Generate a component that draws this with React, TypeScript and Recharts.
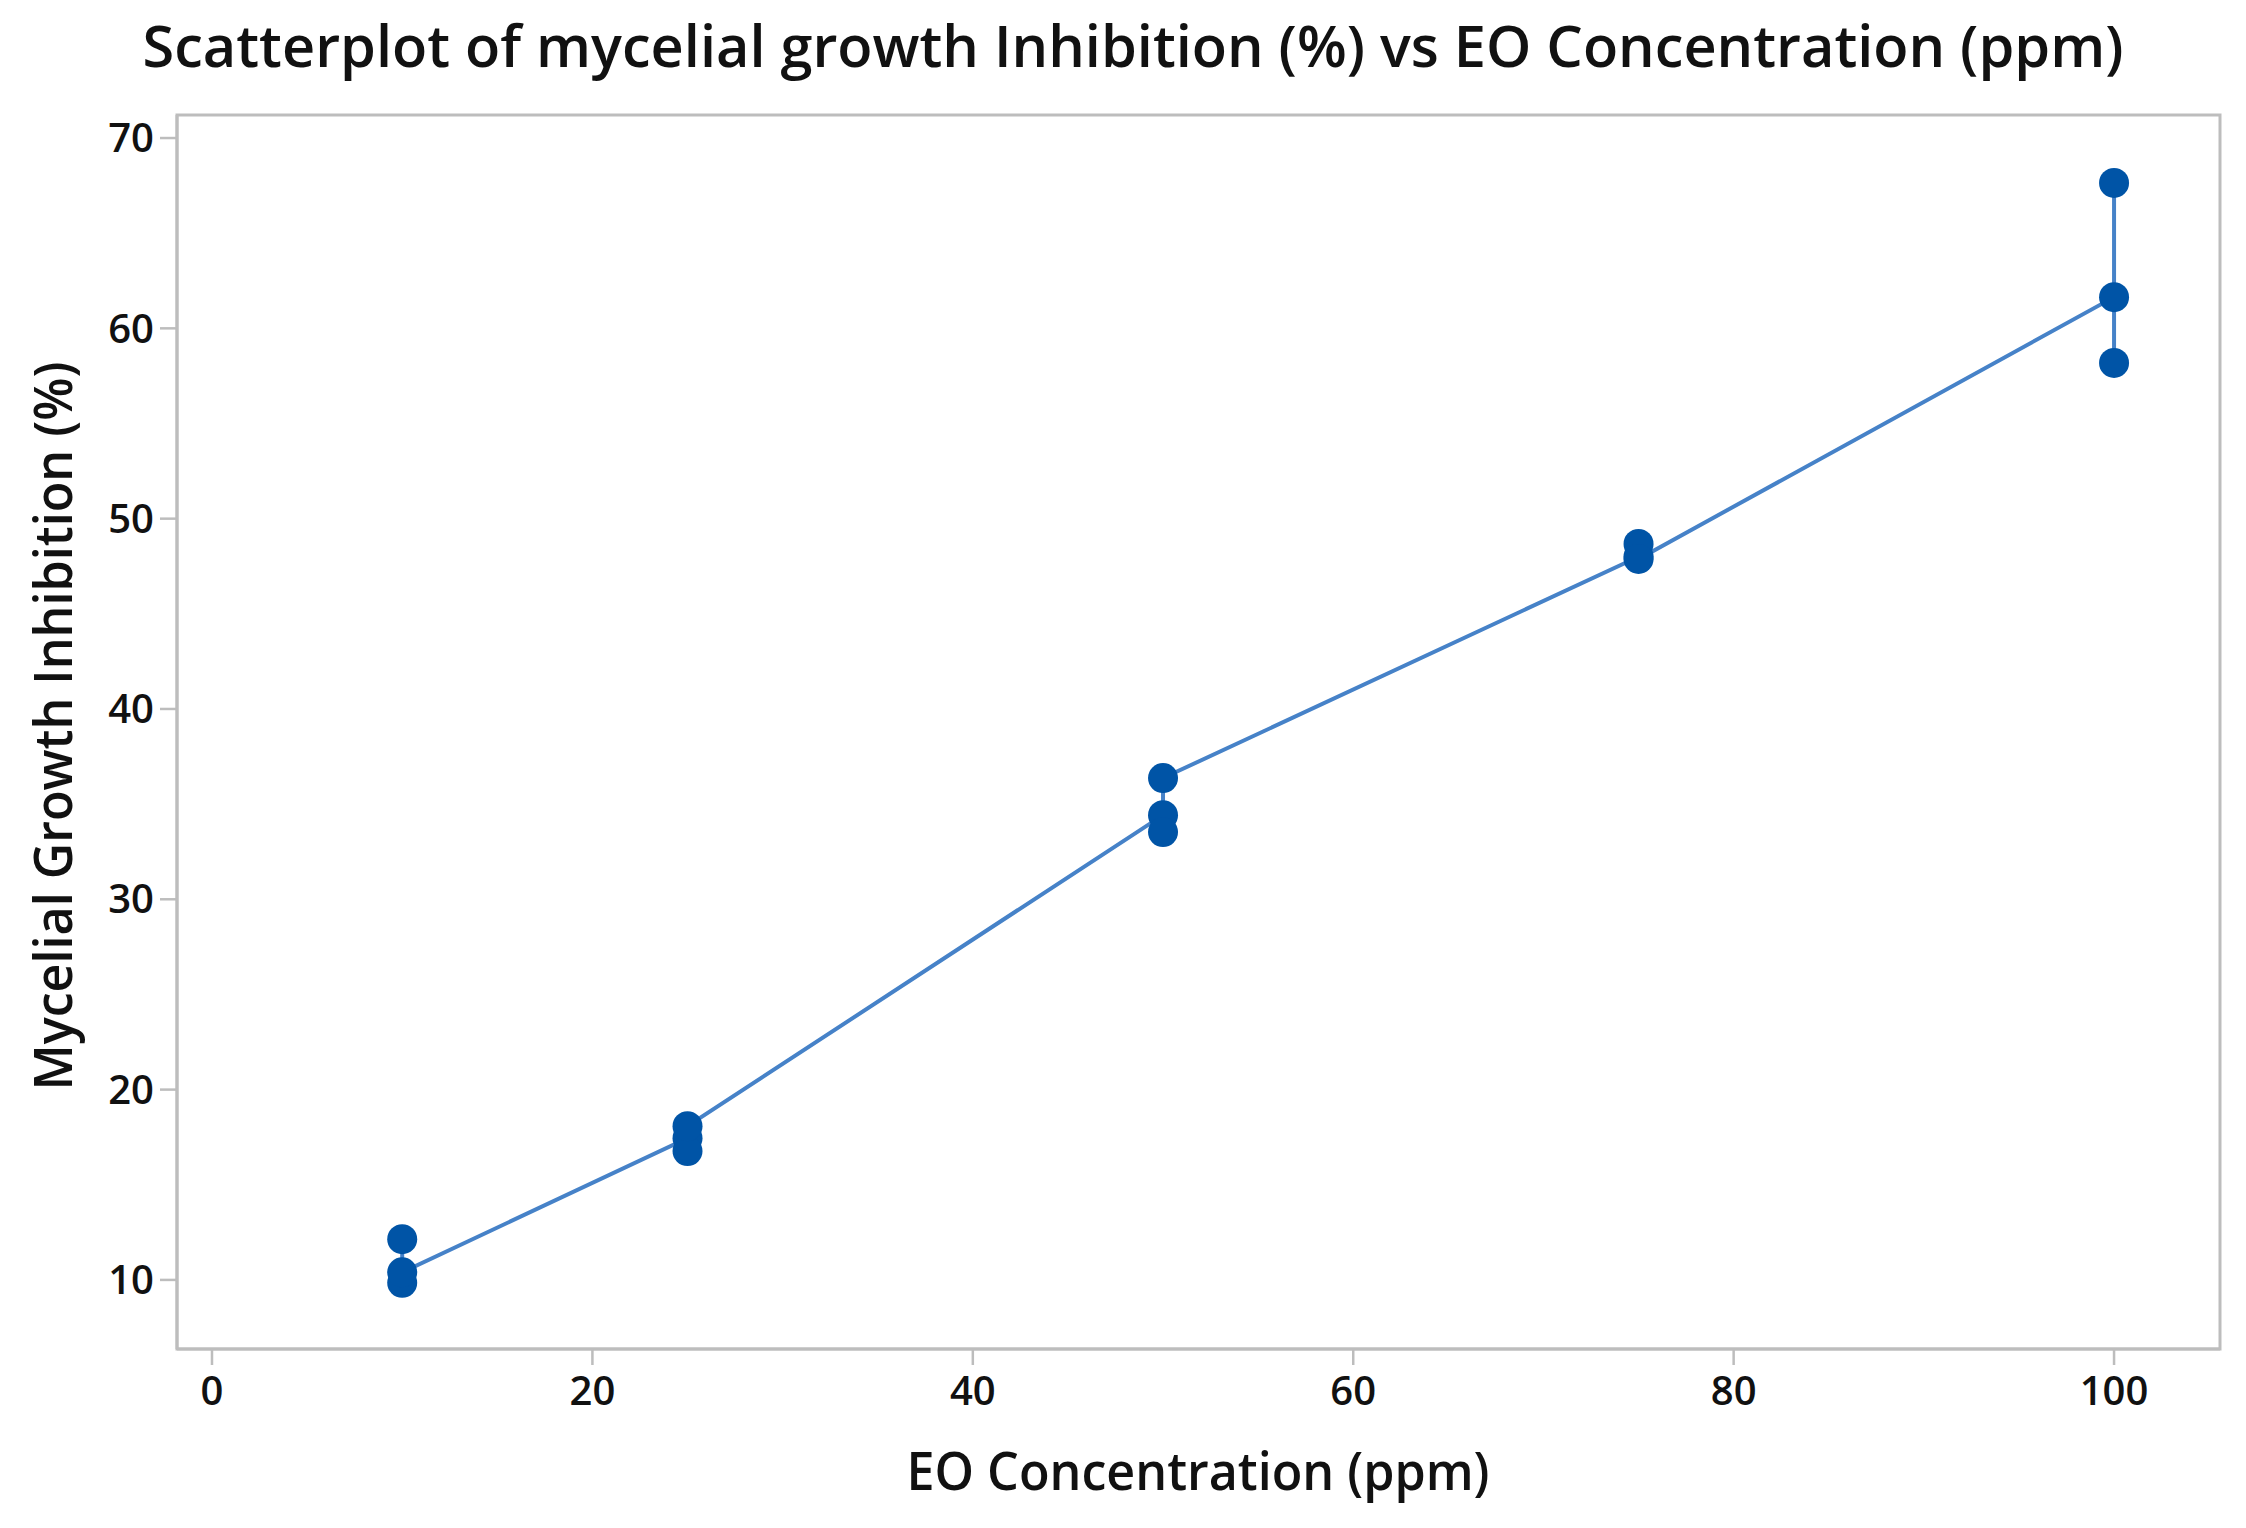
import React from 'react';
import { ScatterChart, Scatter, XAxis, YAxis, ReferenceArea } from 'recharts';

const concentration = [10, 10, 10, 25, 25, 25, 50, 50, 50, 75, 75, 75, 100, 100, 100];
const inhibition = [12.14, 9.85, 10.4, 17.45, 16.77, 18.08, 34.42, 33.53, 36.37, 48.0, 48.67, 47.88, 61.64, 67.64, 58.18];
const xTicks = [0, 20, 40, 60, 80, 100];
const yTicks = [10, 20, 30, 40, 50, 60, 70];
const xDomain: [number, number] = [-1.84, 105.57];
const yDomain: [number, number] = [6.37, 71.21];
const titleText = 'Scatterplot of mycelial growth Inhibition (%) vs EO Concentration (ppm)';
const xLabelText = 'EO Concentration (ppm)';
const yLabelText = 'Mycelial Growth Inhibition (%)';

const data = concentration.map((c, i) => ({ x: c, y: inhibition[i] }));

const W = 2246;
const H = 1528;
const FONT = "'Open Sans', 'Noto Sans', sans-serif";
const AXIS = '#BDBDBD';
const MARK = '#0054A6';
const LINE = '#4682C8';
const TEXT = '#111111';

const Dot = (props: any) => (
  <circle cx={props.cx} cy={props.cy} r={15} fill={MARK} />
);

export default function App() {
  return (
    <div style={{ position: 'absolute', left: 0, top: 0, width: W, height: H, background: '#fff' }}>
      <ScatterChart width={W} height={H} margin={{ top: 115, right: 26, bottom: 0, left: 0 }}>
        <XAxis
          type="number"
          dataKey="x"
          domain={xDomain}
          ticks={xTicks}
          allowDataOverflow
          height={179}
          tickSize={16}
          tickMargin={12}
          axisLine={{ stroke: AXIS, strokeWidth: 3 }}
          tickLine={{ stroke: AXIS, strokeWidth: 2.5 }}
          tick={{ fontSize: 40, fill: TEXT, fontFamily: FONT, fontWeight: 600 }}
        />
        <YAxis
          type="number"
          dataKey="y"
          domain={yDomain}
          ticks={yTicks}
          allowDataOverflow
          width={177}
          tickSize={17}
          tickMargin={6}
          axisLine={{ stroke: AXIS, strokeWidth: 3 }}
          tickLine={{ stroke: AXIS, strokeWidth: 2.5 }}
          tick={{ fontSize: 40, fill: TEXT, fontFamily: FONT, fontWeight: 600 }}
        />
        <ReferenceArea
          x1={xDomain[0]}
          x2={xDomain[1]}
          y1={yDomain[0]}
          y2={yDomain[1]}
          fill="none"
          fillOpacity={0}
          stroke={AXIS}
          strokeWidth={3}
        />
        <Scatter
          data={data}
          fill={MARK}
          line={{ stroke: LINE, strokeWidth: 4 }}
          lineType="joint"
          shape={Dot}
          isAnimationActive={false}
        />
      </ScatterChart>
      <svg
        width={W}
        height={H}
        style={{ position: 'absolute', left: 0, top: 0, pointerEvents: 'none' }}
      >
        <text
          x={1133}
          y={67}
          textAnchor="middle"
          fontFamily={FONT}
          fontSize={58}
          fontWeight={600}
          fill={TEXT}
          textLength={1981}
          lengthAdjust="spacingAndGlyphs"
        >
          {titleText}
        </text>
        <text
          x={1198}
          y={1490}
          textAnchor="middle"
          fontFamily={FONT}
          fontSize={52}
          fontWeight={600}
          fill={TEXT}
          textLength={583}
          lengthAdjust="spacingAndGlyphs"
        >
          {xLabelText}
        </text>
        <text
          x={72}
          y={726}
          textAnchor="middle"
          transform="rotate(-90 72 726)"
          fontFamily={FONT}
          fontSize={52}
          fontWeight={600}
          fill={TEXT}
          textLength={729}
          lengthAdjust="spacingAndGlyphs"
        >
          {yLabelText}
        </text>
      </svg>
    </div>
  );
}
